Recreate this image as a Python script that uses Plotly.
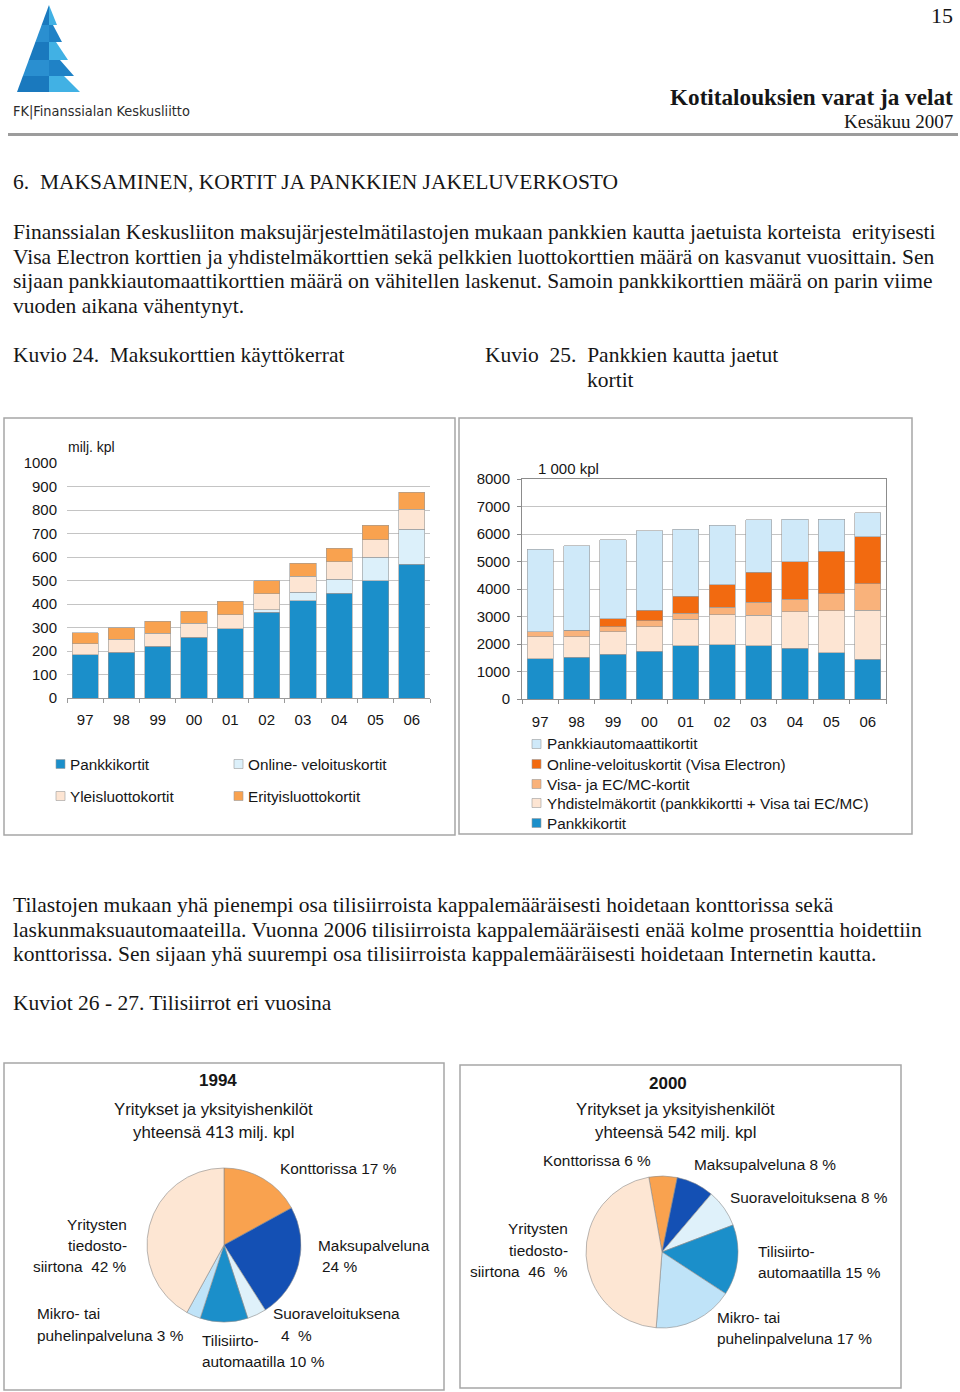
import plotly.graph_objects as go

W, H = 960, 1392

def px(x):
    return x / W

def py(y):
    return 1 - y / H

# ---------------- DATA ----------------
years = ["97", "98", "99", "00", "01", "02", "03", "04", "05", "06"]

# Kuvio 24 (milj. kpl)
k24_names = ["Pankkikortit", "Online- veloituskortit", "Yleisluottokortit", "Erityisluottokortit"]
k24_pankki = [183, 194, 220, 258, 295, 365, 413, 445, 499, 569]
k24_online = [0, 0, 0, 0, 0, 11, 38, 61, 100, 150]
k24_yleis = [48, 56, 55, 60, 60, 67, 67, 74, 75, 85]
k24_erityis = [46, 49, 51, 51, 56, 56, 56, 57, 62, 71]

# Kuvio 25 (1 000 kpl)
k25_names = ["Pankkikortit", "Yhdistelmäkortit (pankkikortti + Visa tai EC/MC)",
             "Visa- ja EC/MC-kortit", "Online-veloituskortit (Visa Electron)",
             "Pankkiautomaattikortit"]
k25_pankki = [1470, 1520, 1620, 1730, 1930, 1970, 1930, 1840, 1680, 1440]
k25_yhd = [800, 750, 830, 900, 970, 1090, 1120, 1330, 1530, 1790]
k25_visa = [180, 230, 180, 220, 210, 270, 460, 450, 620, 970]
k25_online = [0, 0, 280, 380, 630, 830, 1100, 1370, 1550, 1700]
k25_auto = [2990, 3080, 2890, 2890, 2430, 2150, 1910, 1550, 1150, 880]

# Kuviot 26-27 (%)
pie_labels = ["Konttorissa", "Maksupalveluna", "Suoraveloituksena",
              "Tilisiirtoautomaatilla", "Mikro- tai puhelinpalveluna",
              "Yritysten tiedostosiirtona"]
pie1994 = [17, 24, 4, 10, 3, 42]
pie2000 = [6, 8, 8, 15, 17, 46]

# ---------------- STYLE ----------------
SERIF = "Liberation Serif, Times New Roman, serif"
SANS = "Liberation Sans, Arial, sans-serif"
NARROW = "Liberation Sans Narrow, DejaVu Sans Condensed, Arial Narrow, sans-serif"
TXT = "#161616"

c_blue = "#1b8fca"
c_online24 = "#dcf0fa"
c_peach = "#fde5d3"
c_orange = "#f9a24f"
c_auto = "#cfe9f9"
c_dorange = "#f26a10"
c_visa = "#f9b27b"

pie_colors = ["#f9a24f", "#1450b4", "#dff1fa", "#1b8fca", "#bfe3f8", "#fde6d3"]

fig = go.Figure()

edge = dict(color="#9a9a9a", width=0.6)

# Kuvio 24 bars
for name, vals, col in [(k24_names[0], k24_pankki, c_blue),
                        (k24_names[1], k24_online, c_online24),
                        (k24_names[2], k24_yleis, c_peach),
                        (k24_names[3], k24_erityis, c_orange)]:
    fig.add_trace(go.Bar(x=years, y=vals, name=name, marker=dict(color=col, line=edge),
                         xaxis="x", yaxis="y", showlegend=False))

# Kuvio 25 bars
for name, vals, col in [(k25_names[0], k25_pankki, c_blue),
                        (k25_names[1], k25_yhd, c_peach),
                        (k25_names[2], k25_visa, c_visa),
                        (k25_names[3], k25_online, c_dorange),
                        (k25_names[4], k25_auto, c_auto)]:
    fig.add_trace(go.Bar(x=years, y=vals, name=name, marker=dict(color=col, line=edge),
                         xaxis="x2", yaxis="y2", showlegend=False))

# Pies
def pie_domain(cx, cy, r):
    return dict(x=[px(cx - r), px(cx + r)], y=[py(cy + r), py(cy - r)])

fig.add_trace(go.Pie(labels=pie_labels, values=pie1994, sort=False, direction="clockwise",
                     rotation=0, textinfo="none", hoverinfo="label+percent",
                     marker=dict(colors=pie_colors, line=dict(color="#8c8c8c", width=0.6)),
                     domain=pie_domain(224, 1245, 77), showlegend=False))
fig.add_trace(go.Pie(labels=pie_labels, values=pie2000, sort=False, direction="clockwise",
                     rotation=-10, textinfo="none", hoverinfo="label+percent",
                     marker=dict(colors=pie_colors, line=dict(color="#8c8c8c", width=0.6)),
                     domain=pie_domain(662, 1252, 76), showlegend=False))

axis_font = dict(family=SANS, size=15, color=TXT)

fig.update_layout(
    width=W, height=H, margin=dict(l=0, r=0, t=0, b=0, autoexpand=False),
    paper_bgcolor="white", plot_bgcolor="rgba(0,0,0,0)",
    barmode="stack", bargap=0.28, showlegend=False,
    xaxis=dict(domain=[px(67), px(430)], anchor="y", type="category", automargin=False,
               showline=True, linecolor="#9a9a9a", linewidth=1,
               ticks="outside", tickson="boundaries", ticklen=4, tickcolor="#9a9a9a",
               tickfont=axis_font, ticklabelstandoff=8, showgrid=False, fixedrange=True),
    yaxis=dict(domain=[py(698), py(463)], anchor="x", range=[0, 1000], dtick=100,
               automargin=False,
               showgrid=True, gridcolor="#c4c4c4", gridwidth=1, zeroline=False,
               showline=False, ticks="", tickfont=axis_font, ticklabelstandoff=9,
               fixedrange=True),
    xaxis2=dict(domain=[px(522), px(886)], anchor="y2", type="category", automargin=False,
                showline=True, mirror=True, linecolor="#8c8c8c", linewidth=1,
                ticks="outside", tickson="boundaries", ticklen=4, tickcolor="#8c8c8c",
                tickfont=axis_font, ticklabelstandoff=9, showgrid=False, fixedrange=True),
    yaxis2=dict(domain=[py(699), py(479)], anchor="x2", range=[0, 8000], dtick=1000,
                automargin=False,
                showgrid=True, gridcolor="#c4c4c4", gridwidth=1, zeroline=False,
                showline=True, mirror=True, linecolor="#8c8c8c", linewidth=1,
                ticks="outside", ticklen=4, tickcolor="#8c8c8c",
                tickfont=axis_font, ticklabelstandoff=4, fixedrange=True),
)

annotations = []
shapes = []

def text(x, y, s, size, family=SANS, anchor="left", color=TXT, bold=False):
    if bold:
        s = "<b>" + s + "</b>"
    annotations.append(dict(x=px(x), y=py(y), xref="paper", yref="paper", text=s,
                            showarrow=False, xanchor=anchor, yanchor="middle",
                            font=dict(family=family, size=size, color=color),
                            align=anchor if anchor != "center" else "center"))

def rect(x0, y0, x1, y1, line="#a6a6a6", width=1.5, fill="rgba(0,0,0,0)"):
    shapes.append(dict(type="rect", xref="paper", yref="paper",
                       x0=px(x0), x1=px(x1), y0=py(y1), y1=py(y0),
                       line=dict(color=line, width=width), fillcolor=fill, layer="above"))

def poly(pts, fill):
    path = "M " + " L ".join(f"{px(a):.5f},{py(b):.5f}" for a, b in pts) + " Z"
    shapes.append(dict(type="path", xref="paper", yref="paper", path=path,
                       fillcolor=fill, line=dict(width=0), layer="above"))

# ---------------- HEADER ----------------
def xl(y):
    return 49 - (32 / 87) * (y - 5)

dark, light = "#1a79be", "#41b1e4"
bands = [(5, 25, 49, 57), (25, 42, 53, 62), (42, 60, 56, 68), (60, 76, 60, 74), (76, 92, 64, 80)]
for i, (y0, y1, r0, r1) in enumerate(bands):
    poly([(xl(y0), y0), (49, y0), (49, y1), (xl(y1), y1)], dark if i % 2 == 0 else "#2a8fd0")
    poly([(49, y0), (r0, y0), (r1, y1), (49, y1)], light if i % 2 == 0 else "#1f82c6")
text(11, 111, "FK|Finanssialan Keskusliitto", 14.4, family=NARROW, color="#2b2b2b")

text(955, 16, "15", 22, family=SERIF, anchor="right")
text(955, 97, "Kotitalouksien varat ja velat", 23.2, family=SERIF, anchor="right", bold=True)
text(955, 121, "Kesäkuu 2007", 19, family=SERIF, anchor="right")
shapes.append(dict(type="line", xref="paper", yref="paper", x0=px(8), x1=px(958),
                   y0=py(134.5), y1=py(134.5), line=dict(color="#9c9c9c", width=3)))

# ---------------- BODY TEXT ----------------
BS = 21.5
TX = 11
text(TX, 182, "6.\u00a0 MAKSAMINEN, KORTIT JA PANKKIEN JAKELUVERKOSTO", BS, family=SERIF)
para1 = [
    "Finanssialan Keskusliiton maksujärjestelmätilastojen mukaan pankkien kautta jaetuista korteista\u00a0 erityisesti",
    "Visa Electron korttien ja yhdistelmäkorttien sekä pelkkien luottokorttien määrä on kasvanut vuosittain. Sen",
    "sijaan pankkiautomaattikorttien määrä on vähitellen laskenut. Samoin pankkikorttien määrä on parin viime",
    "vuoden aikana vähentynyt.",
]
for i, line in enumerate(para1):
    text(TX, 232 + i * 24.7, line, BS, family=SERIF)
text(TX, 355, "Kuvio 24.\u00a0 Maksukorttien käyttökerrat", BS, family=SERIF)
text(483, 355, "Kuvio\u00a0 25.\u00a0 Pankkien kautta jaetut", BS, family=SERIF)
text(585, 380, "kortit", BS, family=SERIF)

para2 = [
    "Tilastojen mukaan yhä pienempi osa tilisiirroista kappalemääräisesti hoidetaan konttorissa sekä",
    "laskunmaksuautomaateilla. Vuonna 2006 tilisiirroista kappalemääräisesti enää kolme prosenttia hoidettiin",
    "konttorissa. Sen sijaan yhä suurempi osa tilisiirroista kappalemääräisesti hoidetaan Internetin kautta.",
]
for i, line in enumerate(para2):
    text(TX, 905 + i * 24.6, line, BS, family=SERIF)
text(TX, 1003, "Kuviot 26 - 27. Tilisiirrot eri vuosina", BS, family=SERIF)

# ---------------- CHART BOXES ----------------
rect(4, 418, 455, 835)
rect(459, 418, 912, 834)
rect(4, 1063, 444, 1390)
rect(460, 1065, 901, 1388)

LS = 15.3
# Kuvio 24 extras
text(66, 447, "milj. kpl", 14)
leg24 = [(56, 764, c_blue, k24_names[0]), (234, 764, c_online24, k24_names[1]),
         (56, 796, c_peach, k24_names[2]), (234, 796, c_orange, k24_names[3])]
for x, y, col, name in leg24:
    rect(x, y - 4.5, x + 9, y + 4.5, line="#9a9a9a", width=0.6, fill=col)
    text(x + 12, y, name, LS)

# Kuvio 25 extras
text(536, 468, "1 000 kpl", 15)
leg25 = [(744, c_auto, k25_names[4]), (764, c_dorange, k25_names[3]),
         (784, c_visa, k25_names[2]), (803, c_peach, k25_names[1]),
         (823, c_blue, k25_names[0])]
for y, col, name in leg25:
    rect(532, y - 4.5, 541, y + 4.5, line="#9a9a9a", width=0.6, fill=col)
    text(545, y, name, LS)

# ---------------- PIE TEXT ----------------
PS = 15.4
TS = 16.8
text(218, 1080, "1994", 17, anchor="center", bold=True)
text(213, 1109, "Yritykset ja yksityishenkilöt", TS, anchor="center")
text(213, 1132, "yhteensä 413 milj. kpl", TS, anchor="center")
text(278, 1168, f"Konttorissa {pie1994[0]} %", PS)
text(316, 1245, "Maksupalveluna", PS)
text(320, 1266, f"{pie1994[1]} %", PS)
text(271, 1313, "Suoraveloituksena", PS)
text(279, 1335, f"{pie1994[2]}\u00a0 %", PS)
text(200, 1340, "Tilisiirto-", PS)
text(200, 1361, f"automaatilla {pie1994[3]} %", PS)
text(35, 1313, "Mikro- tai", PS)
text(35, 1335, f"puhelinpalveluna {pie1994[4]} %", PS)
text(129, 1224, "Yritysten", PS, anchor="right")
text(129, 1245, "tiedosto-", PS, anchor="right")
text(129, 1266, f"siirtona\u00a0 {pie1994[5]} %", PS, anchor="right")

text(668, 1083, "2000", 17, anchor="center", bold=True)
text(675, 1109, "Yritykset ja yksityishenkilöt", TS, anchor="center")
text(675, 1132, "yhteensä 542 milj. kpl", TS, anchor="center")
text(541, 1160, f"Konttorissa {pie2000[0]} %", PS)
text(692, 1164, f"Maksupalveluna {pie2000[1]} %", PS)
text(728, 1197, f"Suoraveloituksena {pie2000[2]} %", PS)
text(756, 1251, "Tilisiirto-", PS)
text(756, 1272, f"automaatilla {pie2000[3]} %", PS)
text(715, 1317, "Mikro- tai", PS)
text(715, 1338, f"puhelinpalveluna {pie2000[4]} %", PS)
text(570, 1228, "Yritysten", PS, anchor="right")
text(570, 1250, "tiedosto-", PS, anchor="right")
text(570, 1271, f"siirtona\u00a0 {pie2000[5]}\u00a0 %", PS, anchor="right")

fig.update_layout(annotations=annotations, shapes=shapes)

fig.write_html("out.html", config={"displayModeBar": False},
               post_script="document.body.style.margin='0px';document.body.style.overflow='hidden';")
